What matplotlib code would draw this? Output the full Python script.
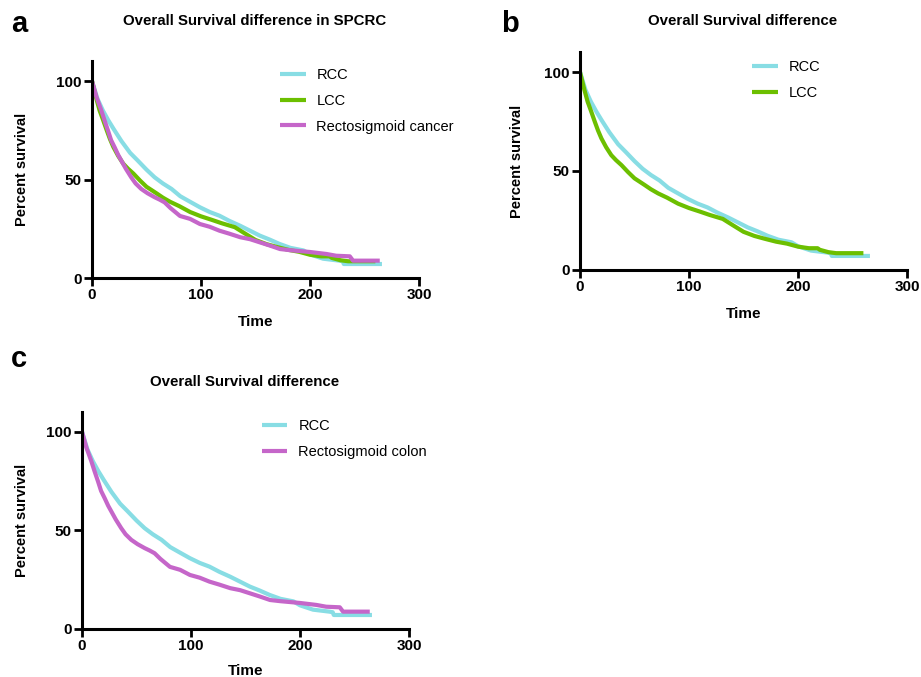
import numpy as np
import matplotlib
matplotlib.use('Agg')
import matplotlib.pyplot as plt

plt.rcParams['font.family'] = ['Liberation Sans', 'DejaVu Sans']

# 生存曲线数据
rcc_time = [0, 5, 10, 15, 20, 27, 35, 42, 50, 57.5, 65, 73, 81, 88, 99, 108, 117,
            126, 136, 145, 154, 163, 172, 182, 194, 200, 212, 227, 230, 231, 266]
rcc_surv = [100, 91, 85, 80, 75.5, 69.5, 63.5, 59.6, 55, 51.1, 48, 45.2, 41.5, 39.3,
            35.9, 33.5, 31.6, 29, 26.5, 24, 21.5, 19.5, 17.3, 15.3, 14, 12, 9.8, 8.8,
            8.5, 7.1, 7.1]

lcc_time = [0, 4, 7, 10, 13.5, 16.5, 19.6, 24, 28.7, 33, 38, 44, 50, 55, 59.4, 65,
            71.6, 80, 90, 100, 110, 119, 131, 140, 150, 160, 170, 180, 190, 200, 210,
            218, 220, 228, 235, 260]
lcc_surv = [100, 91, 85, 80.5, 75, 70.5, 66.5, 62, 58, 55.5, 53, 49.5, 46.3, 44.5,
            42.9, 40.8, 38.7, 36.5, 33.5, 31.3, 29.5, 27.8, 25.8, 22.7, 19.3, 17.2,
            15.7, 14.3, 13.3, 11.8, 11, 11, 10.2, 9, 8.5, 8.5]

rs_time = [0, 4, 8.6, 11.5, 14.7, 17.5, 20.8, 24, 26.9, 31, 36, 40, 45.2, 51, 57.5,
           62, 66.6, 72, 80.7, 90, 99, 108, 117, 126, 136, 145, 154, 163, 172.5, 182,
           200, 215, 224, 236.5, 239.5, 264]
rs_surv = [100, 92, 85, 80, 74.8, 70, 66.3, 62.5, 59.6, 55.5, 51.1, 48, 45.2, 43, 41,
           39.8, 38.4, 35.5, 31.5, 30, 27.4, 26, 24, 22.5, 20.7, 19.7, 18.1, 16.5,
           14.7, 14.1, 13.2, 12.2, 11.3, 11, 8.8, 8.8]

c_rcc = '#88dde4'
c_lcc = '#6cbf00'
c_rs = '#c566c9'


def draw_panel(fig, rect, series, title, title_xy, letter, letter_xy, leg_anchor,
               ylabelpad, xlabelpad=9):
    ax = fig.add_axes(rect)
    for t, s, col, lab in series:
        ax.plot(t, s, color=col, lw=3, label=lab, solid_capstyle='butt')
    ax.set_xlim(0, 300)
    ax.set_ylim(0, 110)
    ax.set_xticks([0, 100, 200, 300])
    ax.set_yticks([0, 50, 100])
    for sp in ['top', 'right']:
        ax.spines[sp].set_visible(False)
    for sp in ['left', 'bottom']:
        ax.spines[sp].set_linewidth(2.2)
    ax.tick_params(direction='out', length=6, width=2, labelsize=11, pad=1.5)
    for lb in ax.get_xticklabels() + ax.get_yticklabels():
        lb.set_fontweight('bold')
    ax.set_xlabel('Time', fontsize=11, fontweight='bold', labelpad=xlabelpad)
    ax.set_ylabel('Percent survival', fontsize=10.5, fontweight='bold',
                  labelpad=ylabelpad)
    ax.legend(loc='upper left', bbox_to_anchor=leg_anchor, frameon=False,
              fontsize=10.5, handlelength=1.75, handletextpad=0.75,
              labelspacing=0.8, borderpad=0, borderaxespad=0)
    fig.text(title_xy[0] / 921, 1 - title_xy[1] / 677, title, ha='center',
             va='center', fontsize=10.8, fontweight='bold')
    fig.text(letter_xy[0] / 921, 1 - letter_xy[1] / 677, letter, ha='center',
             va='baseline', fontsize=21, fontweight='bold')
    return ax


fig = plt.figure(figsize=(9.21, 6.77), dpi=100)

draw_panel(fig, [92 / 921, 1 - 278 / 677, 327 / 921, 216.7 / 677],
           [(rcc_time, rcc_surv, c_rcc, 'RCC'),
            (lcc_time, lcc_surv, c_lcc, 'LCC'),
            (rs_time, rs_surv, c_rs, 'Rectosigmoid cancer')],
           'Overall Survival difference in SPCRC', (255, 21), 'a', (19, 32),
           (0.575, 0.968), ylabelpad=19.5)

draw_panel(fig, [580 / 921, 1 - 270 / 677, 327 / 921, 217.8 / 677],
           [(rcc_time, rcc_surv, c_rcc, 'RCC'),
            (lcc_time, lcc_surv, c_lcc, 'LCC')],
           'Overall Survival difference', (743, 21), 'b', (510, 32),
           (0.526, 0.963), ylabelpad=14.5)

draw_panel(fig, [82 / 921, 1 - 629 / 677, 327 / 921, 217 / 677],
           [(rcc_time, rcc_surv, c_rcc, 'RCC'),
            (rs_time, rs_surv, c_rs, 'Rectosigmoid colon')],
           'Overall Survival difference', (245, 382), 'c', (19, 367),
           (0.550, 0.967), ylabelpad=12, xlabelpad=7.5)

fig.savefig('out.png', dpi=100)
plt.close(fig)
